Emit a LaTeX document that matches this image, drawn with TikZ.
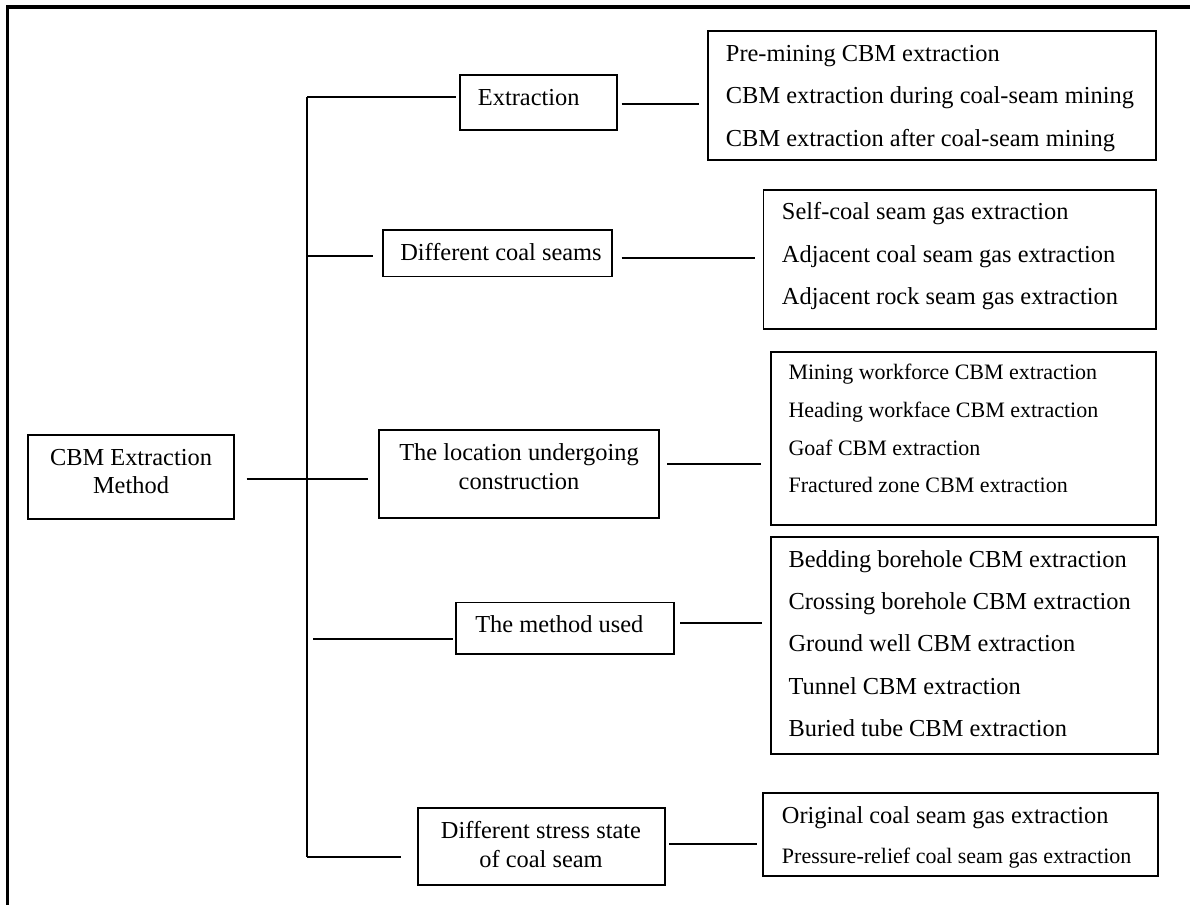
\documentclass[tikz,border=0pt]{standalone}
\usepackage{fontspec}
\setmainfont{Liberation Serif}
\begin{document}
\begin{tikzpicture}[x=0.75pt,y=-0.75pt,
  cbox/.style={draw, rectangle, line width=1.3pt, inner sep=0pt},
  big/.style={font=\fontsize{18.3}{22}\selectfont, inner sep=0pt},
  small/.style={font=\fontsize{16.5}{20}\selectfont, inner sep=0pt},
  conn/.style={line width=1.3pt},
  frameline/.style={line width=2.4pt}]
\useasboundingbox (0,0) rectangle (1190,905);
% outer frame (left and top visible)
\coordinate (fbl) at (7.5,905);
\coordinate (ftl) at (7.5,7);
\coordinate (ftr) at (1190,7);
\draw[frameline] (fbl) -- (ftl) -- (ftr);

% boxes
\node[cbox, minimum width=155pt, minimum height=63.2pt] (root) at (131,477.2) {};
\node[cbox, minimum width=117.5pt, minimum height=41.25pt] (ext) at (538.3,102.5) {};
\node[cbox, minimum width=171.75pt, minimum height=35pt] (seams) at (497.2,253.3) {};
\node[cbox, minimum width=210pt, minimum height=66.2pt] (loc) at (519,474.2) {};
\node[cbox, minimum width=163.5pt, minimum height=38.5pt] (meth) at (565,628.3) {};
\node[cbox, minimum width=185.5pt, minimum height=58pt] (stress) at (541.3,846.3) {};
\node[cbox, minimum width=336.2pt, minimum height=96.75pt] (b1) at (931.9,95.5) {};
\node[cbox, minimum width=294.5pt, minimum height=104.5pt] (b2) at (959.7,259.7) {};
\node[cbox, minimum width=289pt, minimum height=130pt] (b3) at (963.4,438.4) {};
\node[cbox, minimum width=290.25pt, minimum height=163.2pt] (b4) at (964.2,645.5) {};
\node[cbox, minimum width=295.8pt, minimum height=62.5pt] (b5) at (960.5,834.3) {};

% category texts
\node[big, anchor=base] (rootA) at (131,465.7) {CBM Extraction};
\node[big, anchor=base] (rootB) at (131,494) {Method};
\node[big, anchor=base west] (extT) at (477.7,105.7) {Extraction};
\node[big, anchor=base west] (seamsT) at (400,260.7) {Different coal seams};
\node[big, anchor=base] (locA) at (519,460.7) {The location undergoing};
\node[big, anchor=base] (locB) at (519,489.5) {construction};
\node[big, anchor=base west] (methT) at (475,632.7) {The method used};
\node[big, anchor=base] (stressA) at (541,838.3) {Different stress state};
\node[big, anchor=base] (stressB) at (541,867.3) {of coal seam};

% sub-item texts
\foreach \t [count=\i from 0] in {Pre-mining CBM extraction,CBM extraction during coal-seam mining,CBM extraction after coal-seam mining}
  \node[big, anchor=base west] (b1t\i) at (725.7,{61.5+42.5*\i}) {\t};
\foreach \t [count=\i from 0] in {Self-coal seam gas extraction,Adjacent coal seam gas extraction,Adjacent rock seam gas extraction}
  \node[big, anchor=base west] (b2t\i) at (781.7,{220+42.5*\i}) {\t};
\foreach \t [count=\i from 0] in {Mining workforce CBM extraction,Heading workface CBM extraction,Goaf CBM extraction,Fractured zone CBM extraction}
  \node[small, anchor=base west] (b3t\i) at (788.3,{379.5+37.8*\i}) {\t};
\foreach \t [count=\i from 0] in {Bedding borehole CBM extraction,Crossing borehole CBM extraction,Ground well CBM extraction,Tunnel CBM extraction,Buried tube CBM extraction}
  \node[big, anchor=base west] (b4t\i) at (788.3,{567.3+42.35*\i}) {\t};
\node[big, anchor=base west] (b5t0) at (781.7,823.3) {Original coal seam gas extraction};
\node[small, anchor=base west] (b5t1) at (781.7,863.3) {Pressure-relief coal seam gas extraction};

% trunk
\coordinate (ttop) at (307.3,96.7);
\coordinate (tseam) at (307.3,256);
\coordinate (tmeth) at (307.3,639.3);
\coordinate (tbot) at (307.3,856.7);
\draw[conn] (ttop) -- (tbot);
\draw[conn, shorten >=2.5pt] (ttop) -- (ttop -| ext.west);
\draw[conn, shorten >=7pt] (tseam) -- (tseam -| seams.west);
\draw[conn, shorten <=8.5pt, shorten >=7.5pt] ([yshift=-1.35pt]root.east) -- ([yshift=-1.35pt]root.east -| loc.west);
\draw[conn, shorten <=4.5pt, shorten >=1.3pt] (tmeth) -- (tmeth -| meth.west);
\draw[conn, shorten >=12pt] (tbot) -- (tbot -| stress.west);

% right connectors
\draw[conn, shorten <=3pt, shorten >=5.8pt] ([yshift=-1.35pt]ext.east) -- ([yshift=-1.35pt]ext.east -| b1.west);
\draw[conn, shorten <=6.75pt, shorten >=5.7pt] ([yshift=-3.3pt]seams.east) -- ([yshift=-3.3pt]seams.east -| b2.west);
\draw[conn, shorten <=5.6pt, shorten >=6.75pt] ([yshift=7.65pt]loc.east) -- ([yshift=7.65pt]loc.east -| b3.west);
\draw[conn, shorten <=4pt, shorten >=5.55pt] ([yshift=4.2pt]meth.east) -- ([yshift=4.2pt]meth.east -| b4.west);
\draw[conn, shorten <=2.5pt, shorten >=3.75pt] ([yshift=1.5pt]stress.east) -- ([yshift=1.5pt]stress.east -| b5.west);
\end{tikzpicture}
\end{document}
